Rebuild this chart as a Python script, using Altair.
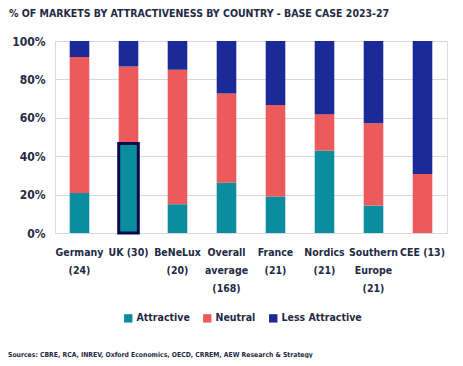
import altair as alt
import pandas as pd

countries = ["Germany|(24)", "UK (30)", "BeNeLux|(20)", "Overall|average|(168)",
             "France|(21)", "Nordics|(21)", "Southern|Europe|(21)", "CEE (13)"]
statuses = ["Attractive", "Neutral", "Less Attractive"]
attractive = [5, 14, 3, 44, 4, 9, 3, 0]
neutral = [17, 12, 14, 78, 10, 4, 9, 4]
less_attractive = [2, 4, 3, 46, 7, 8, 9, 9]
colors = ["#0b8d9f", "#ec5a5b", "#1b2a97"]
highlight_country = "UK (30)"
highlight_status = "Attractive"
title_text = "% OF MARKETS BY ATTRACTIVENESS BY COUNTRY - BASE CASE 2023-27"
source_text = "Sources: CBRE, RCA, INREV, Oxford Economics, OECD, CRREM, AEW Research & Strategy"

rows = []
for i, c in enumerate(countries):
    vals = [attractive[i], neutral[i], less_attractive[i]]
    tot = sum(vals)
    cum = 0.0
    for s, v in zip(statuses, vals):
        p0 = cum / tot
        cum += v
        p1 = cum / tot
        rows.append({"country": c, "status": s, "y0": p0, "y1": p1,
                     "hl": (c == highlight_country and s == highlight_status)})
df = pd.DataFrame(rows)

FONT = "DejaVu Sans Condensed"
TXT = "#1f2a44"

x_enc = alt.X("country:N", sort=countries, title=None,
              scale=alt.Scale(paddingInner=0.6, paddingOuter=0.3),
              axis=alt.Axis(labelExpr="split(datum.label, '|')", labelAngle=0,
                            labelFont=FONT, labelFontSize=10.5, labelFontWeight="bold",
                            labelColor=TXT, labelLineHeight=18, labelPadding=14,
                            labelOverlap=False, labelLimit=0,
                            ticks=False, domain=False, labelBaseline="top"))
y_enc = alt.Y("y1:Q", title=None,
              scale=alt.Scale(domain=[0, 1]),
              axis=alt.Axis(format=".0%", values=[0, 0.2, 0.4, 0.6, 0.8, 1.0],
                            labelFont=FONT, labelFontSize=12, labelFontWeight="bold",
                            labelColor=TXT, labelPadding=10, ticks=False, domain=False,
                            labelOverlap=False,
                            gridColor="#d8d8e0", gridWidth=1))

bars = alt.Chart(df).mark_bar().encode(
    x=x_enc,
    y=y_enc,
    y2="y0:Q",
    color=alt.Color("status:N", sort=statuses,
                    scale=alt.Scale(domain=statuses, range=colors),
                    legend=alt.Legend(title=None, orient="none", direction="horizontal",
                                      legendX=68, legendY=272,
                                      symbolType="square", symbolSize=70,
                                      symbolStrokeWidth=0,
                                      labelFont=FONT, labelFontSize=10.5,
                                      labelFontWeight="bold", labelColor=TXT,
                                      columnPadding=12, labelOffset=3)),
)

hl = alt.Chart(df).transform_filter("datum.hl").mark_bar(
    fillOpacity=0, stroke="#0a0a48", strokeWidth=3
).encode(x=x_enc, y=y_enc, y2="y0:Q")

src = alt.Chart(pd.DataFrame({"t": [source_text]})).mark_text(
    align="left", baseline="middle", font=FONT, fontSize=6.8, fontWeight="bold", color=TXT
).encode(text="t:N", x=alt.value(-47), y=alt.value(314))

chart = alt.layer(bars, hl, src).properties(
    width=392, height=192,
    padding={"left": 47, "top": 33, "right": 8, "bottom": 125},
    autosize=alt.AutoSizeParams(type="none"),
    title=alt.TitleParams(title_text, anchor="start", font=FONT, fontSize=10.5,
                          fontWeight="bold", color=TXT, offset=16, dx=1),
).configure_view(stroke=None).configure(background="white")

chart.save("out.html", embed_options={"renderer": "svg", "actions": False})
